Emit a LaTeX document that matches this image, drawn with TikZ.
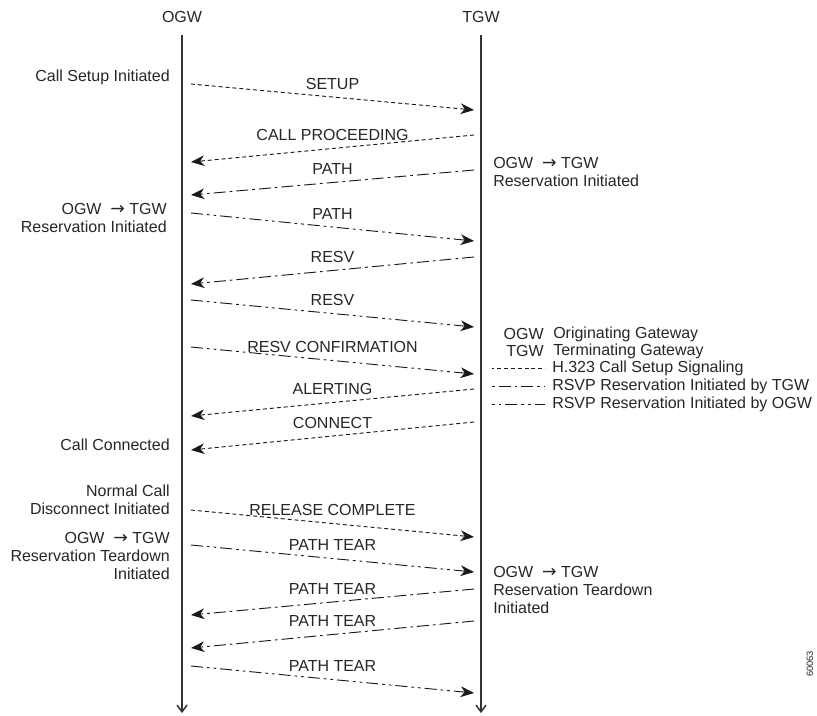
\documentclass[tikz,border=0pt]{standalone}
\usepackage{fontspec}
\setmainfont{Liberation Sans}
\newfontfamily\arrowfont{DejaVu Sans}
\usetikzlibrary{arrows.meta}

\newcommand{\togw}{{\arrowfont\fontsize{13}{13}\selectfont →}}

\tikzset{
  lifeline/.style = {line width=1.1pt, draw=black!80,
    -{Straight Barb[length=5pt,width=7.5pt,line width=1.1pt]}},
  msg/.style      = {line width=0.7pt, draw=black!90,
    -{Stealth[length=10pt,width=8pt,inset=3pt]}},
  sig/.style      = {dash pattern=on 3pt off 2.2pt},
  bytgw/.style    = {dash pattern=on 9pt off 3pt on 2pt off 3pt},
  byogw/.style    = {dash pattern=on 9pt off 3pt on 2pt off 3pt on 2pt off 3pt},
  txt/.style      = {font=\fontsize{12}{13.2}\selectfont, text=black!85, inner sep=0pt},
  msglabel/.style = {txt, anchor=base, yshift=6pt},
}

\begin{document}
\begin{tikzpicture}[x=0.75pt, y=-0.75pt]
  \useasboundingbox (0,0) rectangle (817,715);

  % gateways and their time lines
  \node[txt] (ogw) at (182,17) {OGW};
  \node[txt] (tgw) at (481,17) {TGW};
  \coordinate (ogwtop) at (182,35);
  \coordinate (tgwtop) at (481,35);
  \coordinate (ogwend) at (182,713);
  \coordinate (tgwend) at (481,713);
  \draw[lifeline] (ogwtop) -- (ogwend);
  \draw[lifeline] (tgwtop) -- (tgwend);

  % messages
  \foreach \n/\xa/\ya/\xb/\yb/\sty/\lbl in {
      1/191/84/474/110/sig/SETUP,
      2/474/135/191/162/sig/CALL PROCEEDING,
      3/474/170/191/195/bytgw/PATH,
      4/191/213/474/241/byogw/PATH,
      5/474/257/191/284/bytgw/RESV,
      6/191/300/474/327/byogw/RESV,
      7/191/347/474/374/byogw/RESV CONFIRMATION,
      8/474/389/191/416/sig/ALERTING,
      9/474/422/191/450/sig/CONNECT,
      10/191/510/474/537/sig/RELEASE COMPLETE,
      11/191/545/474/572/byogw/PATH TEAR,
      12/474/589/191/615/bytgw/PATH TEAR,
      13/474/621/191/648/bytgw/PATH TEAR,
      14/191/666/474/693/byogw/PATH TEAR}
  {
    \coordinate (s\n) at (\xa,\ya);
    \coordinate (e\n) at (\xb,\yb);
    \draw[msg,\sty] (s\n) -- node[msglabel] {\lbl} (e\n);
  }

  % events at the gateways
  \node[txt, anchor=east, align=right] (setupinit) at (170,77) {Call Setup Initiated};
  \node[txt, anchor=east, align=right] (ogwresv) at (167,218) {OGW \ \togw\ TGW\\Reservation Initiated};
  \node[txt, anchor=east, align=right] (connected) at (170,445) {Call Connected};
  \node[txt, anchor=east, align=right] (disconnect) at (170,500) {Normal Call\\Disconnect Initiated};
  \node[txt, anchor=east, align=right] (ogwtear) at (170,556) {OGW \ \togw\ TGW\\Reservation Teardown\\Initiated};
  \node[txt, anchor=west, align=left] (tgwresv) at (493,172) {OGW \ \togw\ TGW\\Reservation Initiated};
  \node[txt, anchor=west, align=left] (tgwtear) at (493,590) {OGW \ \togw\ TGW\\Reservation Teardown\\Initiated};

  % legend
  \node[txt, anchor=east] (ogwkey) at (544,334) {OGW};
  \node[txt, anchor=west] (ogwname) at (553,334) {Originating Gateway};
  \node[txt, anchor=east] (tgwkey) at (544,351) {TGW};
  \node[txt, anchor=west] (tgwname) at (553,351) {Terminating Gateway};
  \foreach \y/\sty/\lbl in {368/sig/H.323 Call Setup Signaling,
      386/bytgw/RSVP Reservation Initiated by TGW,
      404/byogw/RSVP Reservation Initiated by OGW}
  {
    \node[txt, anchor=west] (key\y) at (552,\y) {\lbl};
    \coordinate (keystart\y) at (492,\y);
    \draw[line width=0.7pt, draw=black!90, \sty, dash phase=12pt]
      (keystart\y) -- ([xshift=-5pt]key\y.west);
  }

  \node[txt, font=\fontsize{7}{8}\selectfont, rotate=90] (figid) at (810,664) {60063};
\end{tikzpicture}
\end{document}
